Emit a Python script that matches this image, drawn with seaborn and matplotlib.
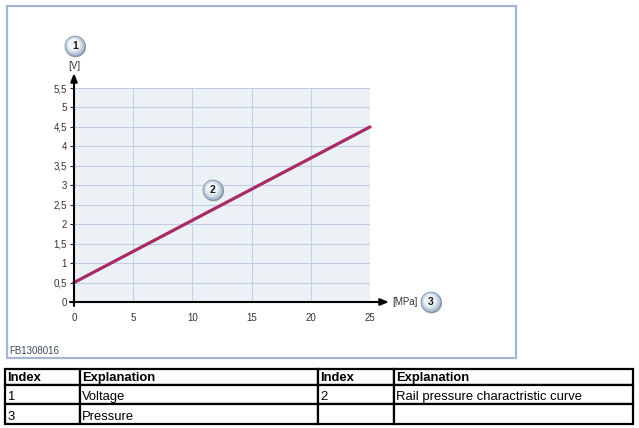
import matplotlib
matplotlib.use('Agg')
import matplotlib.pyplot as plt
import pandas as pd
import seaborn as sns
from matplotlib.patches import Circle, Rectangle

# --- data ---
pressure = [0, 5, 10, 15, 20, 25]
voltage = [0.5, 1.3, 2.1, 2.9, 3.7, 4.5]
x_ticks = [0, 5, 10, 15, 20, 25]
y_ticks = [0, 0.5, 1, 1.5, 2, 2.5, 3, 3.5, 4, 4.5, 5, 5.5]
y_labels = ['0', '0,5', '1', '1,5', '2', '2,5', '3', '3,5', '4', '4,5', '5', '5,5']
table_rows = [['Index', 'Explanation', 'Index', 'Explanation'],
              ['1', 'Voltage', '2', 'Rail pressure charactristic curve'],
              ['3', 'Pressure', '', '']]

W, H = 639, 428
sns.set_style('white')
plt.rcParams['font.family'] = ['Liberation Sans', 'DejaVu Sans']

fig = plt.figure(figsize=(W / 100, H / 100), dpi=100, facecolor='white')

# background layer in pixels, for the picture frame
bg = fig.add_axes([0, 0, 1, 1], zorder=0)
bg.set_xlim(0, W)
bg.set_ylim(H, 0)
bg.axis('off')
bg.add_patch(Rectangle((6.5, 5.5), 509, 352, fc='white', ec='#a3b5d1', lw=1.6))
bg.text(9, 350.5, 'FB1308016', fontsize=7, color='#3a4a5a', va='center')

# --- chart ---
ax = fig.add_axes([74 / W, (H - 302) / H, 296 / W, 214 / H], zorder=1)
df = pd.DataFrame({'pressure': pressure, 'voltage': voltage})
sns.lineplot(data=df, x='pressure', y='voltage', color='#a82a66', linewidth=2.3, ax=ax, zorder=5, clip_on=False)
ax.set_xlim(0, 25)
ax.set_ylim(0, 5.5)
ax.set_facecolor('#ecf1f5')
ax.set_xticks(x_ticks)
ax.set_yticks(y_ticks)
ax.set_yticklabels(y_labels)
ax.set_xlabel('')
ax.set_ylabel('')
ax.grid(True, color='#c3cde3', linewidth=0.8)
ax.set_axisbelow(True)
ax.tick_params(axis='both', length=3, width=0.8, color='#222222', labelsize=7,
               labelcolor='#333333', pad=2, left=True, bottom=False)
ax.tick_params(axis='x', pad=5)
for side in ['top', 'right', 'left', 'bottom']:
    ax.spines[side].set_visible(False)

# top layer: arrows, bubbles, table
top = fig.add_axes([0, 0, 1, 1], zorder=2)
top.set_xlim(0, W)
top.set_ylim(H, 0)
top.axis('off')
top.patch.set_alpha(0)

arrow = dict(arrowstyle='-|>,head_width=0.2,head_length=0.5', color='black', lw=1.5,
             shrinkA=0, shrinkB=0)
top.annotate('', xy=(74, 73), xytext=(74, 306), arrowprops=arrow)
top.annotate('', xy=(389, 302), xytext=(70, 302), arrowprops=arrow)
top.text(74.5, 65.5, '[V]', fontsize=7, color='#333333', ha='center', va='center')
top.text(392, 302, '[MPa]', fontsize=7, color='#333333', ha='left', va='center')


def bubble(cx, cy, label):
    top.add_patch(Circle((cx + 0.6, cy + 0.8), 10.5, fc='#8e9aa8', ec='none'))
    top.add_patch(Circle((cx, cy), 10, fc='#b3c3d6', ec='#7f8fa3', lw=0.5))
    top.add_patch(Circle((cx - 0.6, cy - 0.8), 8, fc='#d5dfe9', ec='none'))
    top.add_patch(Circle((cx - 1, cy - 1.2), 6, fc='#f2f5f8', ec='none'))
    top.text(cx, cy, label, fontsize=7.5, fontweight='bold', color='#1a1a1a',
             ha='center', va='center')


bubble(75, 46, '1')
bubble(213, 190, '2')
bubble(431, 302, '3')

# legend table under the picture
col_edges = [5, 80, 318, 394, 633]
row_edges = [369, 385, 404, 424]
for i, row in enumerate(table_rows):
    for j, cell in enumerate(row):
        top.add_patch(Rectangle((col_edges[j], row_edges[i]), col_edges[j + 1] - col_edges[j],
                                row_edges[i + 1] - row_edges[i], fc='white', ec='black', lw=1.6))
        top.text(col_edges[j] + 2, row_edges[i + 1] - 4, cell,
                 fontsize=9.4, color='black', ha='left', va='baseline',
                 fontweight='bold' if i == 0 else 'normal')

fig.savefig('out.png', dpi=100)
